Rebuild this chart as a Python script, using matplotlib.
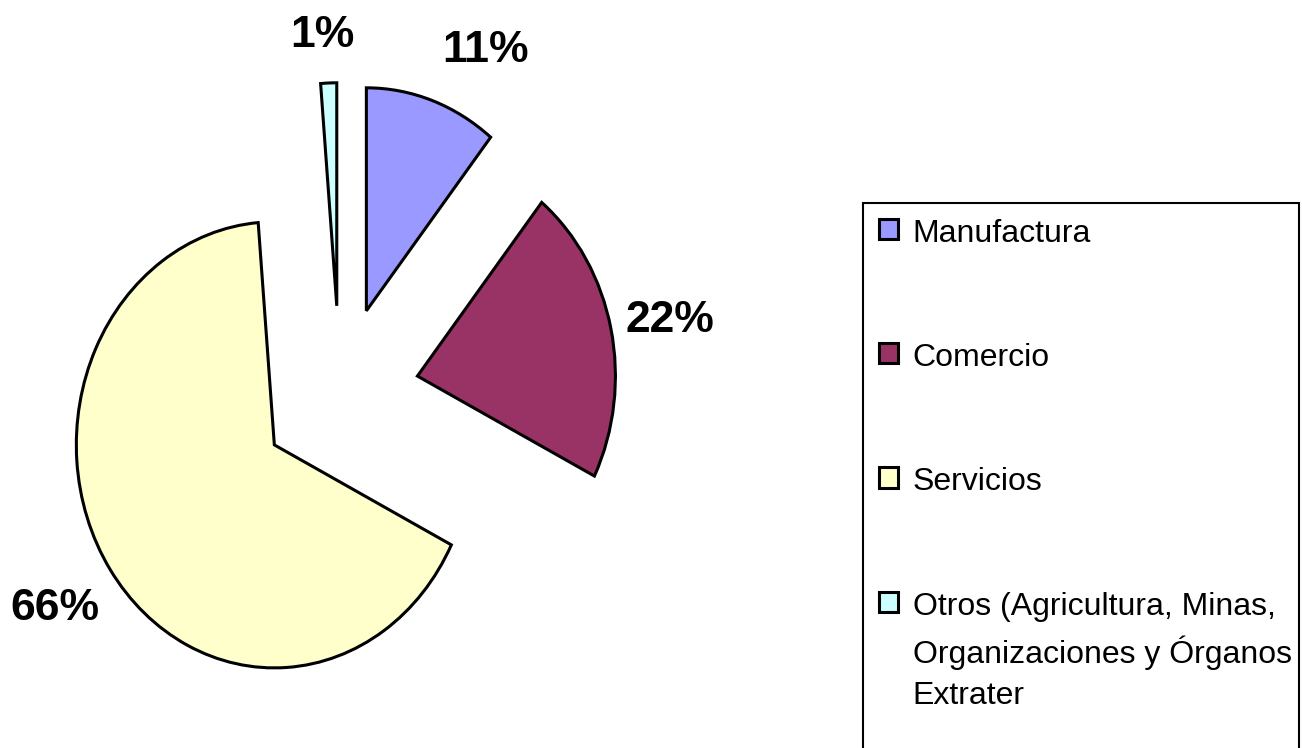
import numpy as np
import matplotlib
matplotlib.use("Agg")
import matplotlib.pyplot as plt
from matplotlib.patches import Rectangle

# sector shares (%)
sectors = ["Manufactura", "Comercio", "Servicios",
           "Otros (Agricultura, Minas,\nOrganizaciones y Órganos\nExtrater"]
shares = [10.8, 21.6, 66.3, 1.3]
colors = ["#9999FF", "#993366", "#FFFFCC", "#CCFFFF"]

# where the % labels sit (radius units, degrees of nudge from mid angle)
label_dist = [1.314, 1.300, 1.329, 1.216]
label_rot = [-7.7, -1.1, -0.4, 1.2]

plt.rcParams['font.family'] = ['Liberation Sans', 'DejaVu Sans']

W, H = 1302, 748
fig = plt.figure(figsize=(W / 100, H / 100), dpi=100)
ax = fig.add_axes([0, 0, 860 / W, 1])

wedges, texts, autotexts = ax.pie(
    shares, colors=colors, startangle=90, counterclock=False,
    explode=[0.4] * len(shares), autopct='%.0f%%',
    wedgeprops=dict(edgecolor='black', linewidth=2.2),
    textprops=dict(fontsize=32, fontweight='bold', color='black'))

for w, t, d, rot in zip(wedges, autotexts, label_dist, label_rot):
    ang = np.deg2rad((w.theta1 + w.theta2) / 2 + rot)
    cx, cy = w.center
    t.set_position((cx + d * np.cos(ang), cy + d * np.sin(ang)))
    t.set_ha('center')
    t.set_va('center')

# the pie in the original is a bit squashed sideways
ax.set_aspect('auto')
ax.set_xlim(-1.717, 2.626)
ax.set_ylim(-1.583, 1.771)
ax.axis('off')

leg = fig.legend(wedges, sectors, loc='upper left',
                 bbox_to_anchor=(863 / W, 1 - 203 / H),
                 frameon=False, fontsize=23, borderaxespad=0, borderpad=0.5,
                 handlelength=0.6, handleheight=0.6, handletextpad=0.45,
                 labelspacing=2.95)
for t in leg.texts:
    t.set_linespacing(1.5)
for col in leg._legend_handle_box.get_children():
    for item in col.get_children():
        item.align = 'top'

# legend frame runs off the bottom edge
fig.add_artist(Rectangle((863 / W, -0.1), (1299 - 863) / W, (H - 203) / H + 0.1,
                         transform=fig.transFigure, fill=False,
                         edgecolor='black', linewidth=1.5))

plt.savefig('out.png', dpi=100)
